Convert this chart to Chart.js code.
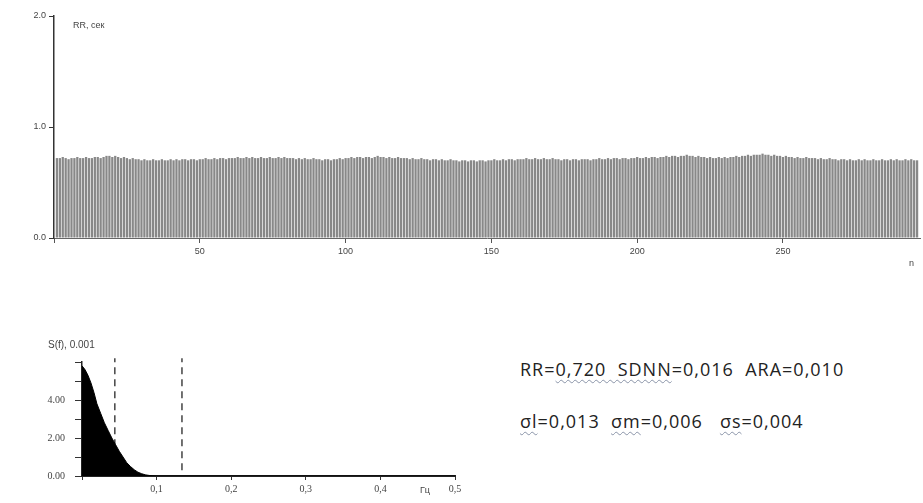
<!DOCTYPE html>
<html>
<head>
<meta charset="utf-8">
<script src="https://cdn.jsdelivr.net/npm/chart.js@4"></script>
<style>
	body { margin:0; background:#fff; width:923px; height:503px; position:relative; overflow:hidden; font-family:'Liberation Sans', sans-serif; }
	canvas { position:absolute; }
	.t { position:absolute; color:#444; font-size:9px; white-space:nowrap; }
	.stat { position:absolute; left:520px; font-family:'Open Sans', sans-serif; font-size:18px; letter-spacing:1px; color:#222; white-space:pre; }
	.w { text-decoration:underline wavy #8a94a8; text-decoration-thickness:1px; text-underline-offset:3px; }
</style>
</head>
<body>
<canvas id="c1" width="923" height="275" style="left:0; top:0;"></canvas>
<canvas id="c2" width="470" height="163" style="left:0; top:340px;"></canvas>

<div class="t" style="left:73px; top:20px;">RR, сек</div>
<div class="t" style="left:909px; top:258px;">n</div>
<div class="t" style="left:48px; top:339px; font-size:10px;">S(f), 0.001</div>
<div class="t" style="left:420px; top:485px;">Гц</div>

<div class="stat" style="top:357px;">RR=<span class="w">0,720  SDNN</span>=0,016  ARA=0,010</div>
<div class="stat" style="top:409px;"><span class="w">σl</span>=0,013  <span class="w">σm</span>=0,006   <span class="w">σs</span>=0,004</div>

<script>
// RR intervals, sec (n = 1..296)
const rrValues = [
	0.72,0.72,0.73,0.72,0.71,0.72,0.72,0.73,0.72,0.72,0.73,0.72,0.72,0.73,0.73,0.72,0.73,0.74,0.74,0.73,
	0.74,0.73,0.72,0.73,0.72,0.71,0.72,0.71,0.71,0.70,0.71,0.70,0.70,0.71,0.70,0.70,0.71,0.70,0.70,0.71,
	0.70,0.71,0.70,0.71,0.71,0.70,0.71,0.71,0.70,0.71,0.71,0.72,0.71,0.71,0.72,0.71,0.72,0.72,0.71,0.72,
	0.72,0.72,0.73,0.72,0.72,0.73,0.72,0.73,0.72,0.72,0.73,0.72,0.72,0.73,0.72,0.72,0.73,0.72,0.73,0.72,
	0.72,0.72,0.71,0.72,0.71,0.72,0.71,0.71,0.72,0.71,0.71,0.70,0.71,0.71,0.70,0.71,0.71,0.72,0.71,0.72,
	0.72,0.73,0.72,0.73,0.73,0.72,0.73,0.73,0.72,0.73,0.74,0.73,0.73,0.72,0.73,0.72,0.72,0.73,0.72,0.72,
	0.72,0.71,0.72,0.71,0.71,0.72,0.71,0.71,0.70,0.71,0.71,0.70,0.71,0.70,0.70,0.71,0.70,0.70,0.69,0.70,
	0.70,0.69,0.70,0.70,0.69,0.70,0.70,0.69,0.70,0.70,0.71,0.70,0.70,0.71,0.70,0.71,0.71,0.70,0.71,0.71,
	0.71,0.72,0.71,0.71,0.72,0.71,0.71,0.72,0.71,0.71,0.72,0.71,0.71,0.70,0.71,0.71,0.70,0.71,0.71,0.70,
	0.71,0.71,0.71,0.70,0.71,0.71,0.72,0.71,0.71,0.72,0.71,0.72,0.72,0.71,0.72,0.72,0.71,0.72,0.72,0.73,
	0.72,0.72,0.73,0.72,0.73,0.73,0.72,0.73,0.73,0.74,0.73,0.74,0.74,0.73,0.74,0.74,0.75,0.74,0.74,0.73,
	0.74,0.73,0.73,0.72,0.73,0.72,0.72,0.73,0.72,0.73,0.72,0.73,0.73,0.74,0.73,0.74,0.74,0.75,0.74,0.75,
	0.75,0.75,0.76,0.75,0.75,0.74,0.75,0.74,0.74,0.73,0.74,0.73,0.73,0.72,0.73,0.72,0.72,0.73,0.72,0.72,
	0.72,0.71,0.72,0.71,0.71,0.72,0.71,0.71,0.70,0.71,0.71,0.70,0.71,0.70,0.70,0.71,0.70,0.71,0.70,0.70,
	0.71,0.70,0.70,0.71,0.70,0.70,0.71,0.70,0.71,0.70,0.70,0.71,0.70,0.71,0.70,0.70,
]

// spectrum S(f), Hz
const spF = [0,0.004,0.008,0.012,0.016,0.020,0.025,0.030,0.035,0.040,0.045,0.050,0.055,0.060,0.065,0.070,0.075,0.080,0.085,0.090,0.095,0.100,0.5]
const spS = [5.8,5.6,5.3,4.9,4.4,3.8,3.3,2.8,2.4,2.0,1.65,1.3,1.0,0.7,0.5,0.33,0.2,0.12,0.06,0.03,0.01,0,0]

// band borders (dashed)
const bandLines = [0.044, 0.134]

const tickFont = { size:9, family:'Liberation Sans' }

new Chart(document.getElementById('c1'), {
	type: 'bar',
	data: {
		datasets: [{
			data: rrValues.map((v,i) => ({ x:i+1, y:v })),
			backgroundColor: '#888',
			barPercentage: 0.78,
			categoryPercentage: 1,
		}]
	},
	options: {
		responsive: false,
		animation: false,
		plugins: { legend: { display:false }, tooltip: { enabled:false } },
		layout: { padding: { top:16, right:2, left:0, bottom:0 } },
		scales: {
			x: {
				type: 'linear', min: 0, max: 297, offset: false,
				afterFit: s => { s.height = 37 },
				grid: { offset:false, drawOnChartArea:false, tickLength:5, color: c => c.tick && c.tick.value % 50 == 0 ? '#555' : 'rgba(0,0,0,0)' },
				border: { color:'#666' },
				ticks: { stepSize:50, color:'#444', font:tickFont, maxRotation:0, callback: v => v && v % 50 == 0 ? v : '' },
			},
			y: {
				min: 0, max: 2,
				afterFit: s => { s.width = 54 },
				grid: { drawOnChartArea:false, tickLength:5, color:'#333' },
				border: { color:'#333', width:1.5 },
				ticks: { stepSize:1, color:'#444', font:tickFont, callback: v => v.toFixed(1) },
			}
		}
	}
})

new Chart(document.getElementById('c2'), {
	type: 'line',
	data: {
		datasets: [
			{
				data: spF.map((f,i) => ({ x:f, y:spS[i] })),
				fill: 'origin',
				backgroundColor: '#000',
				borderColor: '#000',
				borderWidth: 1,
				pointRadius: 0,
			},
			...bandLines.map(f => ({
				data: [{ x:f, y:0.3 }, { x:f, y:6.2 }],
				borderColor: '#444',
				borderWidth: 1.5,
				borderDash: [7,5],
				pointRadius: 0,
				fill: false,
				clip: false,
			}))
		]
	},
	options: {
		responsive: false,
		animation: false,
		plugins: { legend: { display:false }, tooltip: { enabled:false } },
		layout: { padding: { top:22, right:15, left:0, bottom:0 } },
		scales: {
			x: {
				type: 'linear', min: 0, max: 0.5,
				afterFit: s => { s.height = 27 },
				grid: { drawOnChartArea:false, tickLength:4, color:'#333' },
				border: { color:'#222', width:2 },
				ticks: { stepSize:0.1, color:'#444', font:{ size:10, family:'Liberation Serif' }, maxRotation:0, callback: v => v ? v.toFixed(1).replace('.',',') : '' },
			},
			y: {
				min: 0, max: 6,
				afterFit: s => { s.width = 82 },
				grid: { drawOnChartArea:false, tickLength:7, color:'#333' },
				border: { color:'#222', width:1.5 },
				ticks: { stepSize:1, padding:10, color:'#444', font:{ size:10, family:'Liberation Serif' }, callback: v => v % 2 || v > 4 ? '' : v.toFixed(2) },
			}
		}
	}
})
</script>
</body>
</html>
